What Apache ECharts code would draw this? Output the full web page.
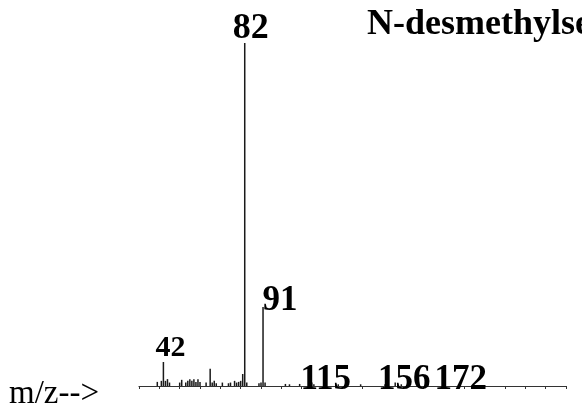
<!DOCTYPE html>
<html>
<head>
<meta charset="utf-8">
<script src="https://cdn.jsdelivr.net/npm/echarts@6/dist/echarts.min.js"></script>
<style>
  html, body { margin: 0; padding: 0; background: #fff; }
  #chart { width: 582px; height: 410px; }
</style>
</head>
<body>
<div id="chart"></div>
<script>
// m/z values and relative abundance (% of base peak)
var mzValues = [39, 41, 42, 43, 44, 45, 50, 51, 53, 54, 55, 56, 57, 58, 59, 60, 63, 65, 66, 67, 68,
  71, 74, 75, 77, 78, 79, 80, 81, 82, 83, 89, 90, 91, 92, 102, 104, 109, 115, 116, 128, 139,
  151, 156, 159, 171, 172];
var abundance = [1.2, 1.5, 7, 1.5, 2, 1, 1, 1.8, 1, 1.5, 2, 1.5, 2, 1.2, 2, 1.2, 1, 5, 1, 1.5, 0.8,
  1, 0.8, 1, 1.5, 1, 1.2, 1.5, 3.5, 100, 1, 0.8, 1, 23, 1, 0.6, 0.5, 0.6, 1, 0.5, 0.5, 0.5,
  0.5, 1, 0.5, 0.5, 1];
// labelled peaks
var labelMz = [42, 82, 91, 115, 156, 172];
var labelOffsets = {42: [7, 1], 82: [6, 4], 91: [17, 11], 115: [14, 15], 156: [9, 15], 172: [33, 15]};
var labelSizes = {42: 30, 82: 36, 91: 35, 115: 35, 156: 35, 172: 35};

var serif = 'Liberation Serif';

var seriesData = mzValues.map(function (mz, i) {
  var item = { value: [mz, abundance[i]] };
  if (labelMz.indexOf(mz) >= 0) {
    item.label = {
      show: true,
      position: 'top',
      distance: 0,
      offset: labelOffsets[mz],
      formatter: String(mz),
      fontFamily: serif,
      fontWeight: 'bold',
      fontSize: labelSizes[mz],
      color: '#000'
    };
  }
  return item;
});

var myChart = echarts.init(document.getElementById('chart'));
myChart.setOption({
  animation: false,
  backgroundColor: '#fff',
  title: {
    text: 'N-desmethylsertraline',
    left: 362,
    top: 2,
    textStyle: { fontFamily: serif, fontWeight: 'bold', fontSize: 36, color: '#000' }
  },
  graphic: [{
    type: 'text',
    left: 9,
    top: 378,
    style: { text: 'm/z-->', font: '33px "Liberation Serif"', fill: '#000' }
  }],
  grid: { left: 139, right: 16, top: 43, bottom: 24 },
  xAxis: {
    type: 'value',
    min: 30,
    max: 240,
    interval: 10,
    axisLine: { lineStyle: { color: '#333', width: 1.2 } },
    axisTick: { length: 3, lineStyle: { color: '#333' } },
    axisLabel: { show: false },
    splitLine: { show: false }
  },
  yAxis: {
    type: 'value',
    min: 0,
    max: 100,
    show: false
  },
  series: [{
    type: 'bar',
    barWidth: 1.5,
    itemStyle: { color: '#1a1a1a' },
    data: seriesData
  }]
});
</script>
</body>
</html>
